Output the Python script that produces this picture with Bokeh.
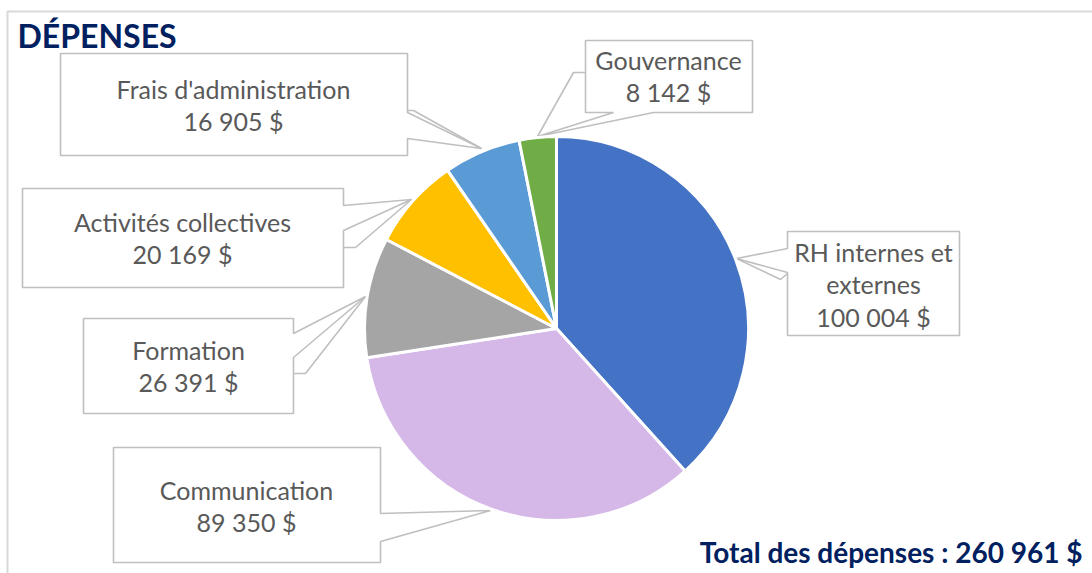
from bokeh.plotting import figure
from bokeh.models import Range1d, ColumnDataSource
from bokeh.core.properties import value
from bokeh.embed import file_html
from bokeh.resources import INLINE
import math

W, H = 1092, 573

categories = ["RH internes et externes", "Communication", "Formation",
              "Activités collectives", "Frais d'administration", "Gouvernance"]
values = [100004, 89350, 26391, 20169, 16905, 8142]
value_labels = ["100 004 $", "89 350 $", "26 391 $", "20 169 $", "16 905 $", "8 142 $"]
label_lines = [["RH internes et", "externes"], ["Communication"], ["Formation"],
               ["Activités collectives"], ["Frais d'administration"], ["Gouvernance"]]
colors = ["#4472C4", "#D5B8E8", "#A5A5A5", "#FFC000", "#5B9BD5", "#70AD47"]
title = "DÉPENSES"
total_text = "Total des dépenses : 260 961 $"

# layout (pixel coords, y down)
CX, CY, R = 556, 328, 192
callouts = [
    dict(box=(787, 231, 959, 335), side="left", base=(248, 272), tip=(736, 258), tx=873, ty=251,
         leader=[(787, 273), (780, 279), (736, 258)]),
    dict(box=(113, 447, 380, 562), side="right", base=(513, 541), tip=(490, 510), tx=246, ty=489,
         leader=None),
    dict(box=(83, 318, 293, 413), side="right", base=(333, 357), tip=(365, 296), tx=188, ty=349,
         leader=[(293, 373), (305, 373), (365, 296)]),
    dict(box=(22, 188, 343, 287), side="right", base=(205, 230), tip=(411, 199), tx=182, ty=221,
         leader=[(343, 247), (355, 247), (411, 199)]),
    dict(box=(60, 53, 407, 155), side="right", base=(112, 138), tip=(481, 148), tx=233, ty=88,
         leader=[(407, 110), (413, 110), (481, 148)]),
    dict(box=(585, 40, 752, 112), side="bottom", base=(613, 653), tip=(537, 136), tx=668, ty=59,
         leader=[(585, 72), (573, 72), (537, 136)]),
]

def fy(y):
    return H - y

p = figure(width=W, height=H, x_range=Range1d(0, W), y_range=Range1d(0, H),
           output_backend="svg", toolbar_location=None, min_border=0)
p.axis.visible = False
p.grid.visible = False
p.outline_line_color = None
p.background_fill_color = "white"

# frame lines
p.line([7, 7, W], [fy(H), fy(11), fy(11)], line_color="#D9D9D9", line_width=2)

# callouts
for c in callouts:
    x0, y0, x1, y1 = c["box"]
    a, b = c["base"]
    t = c["tip"]
    if c["side"] == "right":
        pts = [(x0, y0), (x1, y0), (x1, a), t, (x1, b), (x1, y1), (x0, y1)]
    elif c["side"] == "left":
        pts = [(x0, y0), (x1, y0), (x1, y1), (x0, y1), (x0, b), t, (x0, a)]
    else:
        pts = [(x0, y0), (x1, y0), (x1, y1), (b, y1), t, (a, y1), (x0, y1)]
    p.patch([q[0] for q in pts], [fy(q[1]) for q in pts], fill_color="white",
            line_color="#BFBFBF", line_width=1.6)
    if c["leader"]:
        p.line([q[0] for q in c["leader"]], [fy(q[1]) for q in c["leader"]],
               line_color="#BFBFBF", line_width=1.6)

# pie
total = sum(values)
starts, ends = [], []
acc = 0.0
for v in values:
    s = math.pi / 2 - 2 * math.pi * acc / total
    acc += v
    e = math.pi / 2 - 2 * math.pi * acc / total
    starts.append(s)
    ends.append(e)
src = ColumnDataSource(dict(start=starts, end=ends, color=colors))
p.wedge(x=CX, y=fy(CY), radius=R, start_angle="start", end_angle="end",
        direction="clock", fill_color="color", line_color="white", line_width=3,
        source=src)

# labels
LH = 32.5
for c, lines, vl in zip(callouts, label_lines, value_labels):
    all_lines = lines + [vl]
    for i, ln in enumerate(all_lines):
        p.text(x=[c["tx"]], y=[fy(c["ty"] + i * LH)], text=[ln], text_align="center",
               text_baseline="middle", text_font=value("Lato"), text_font_size="25px",
               text_color="#595959")

p.text(x=[17], y=[fy(35)], text=[title], text_align="left", text_baseline="middle",
       text_font=value("Lato"), text_font_style="bold", text_font_size="32px",
       text_color="#002060")
p.text(x=[1082], y=[fy(551)], text=[total_text], text_align="right", text_baseline="middle",
       text_font=value("Lato"), text_font_style="bold", text_font_size="28px",
       text_color="#002060")

open("out.html", "w").write(file_html(p, INLINE))
